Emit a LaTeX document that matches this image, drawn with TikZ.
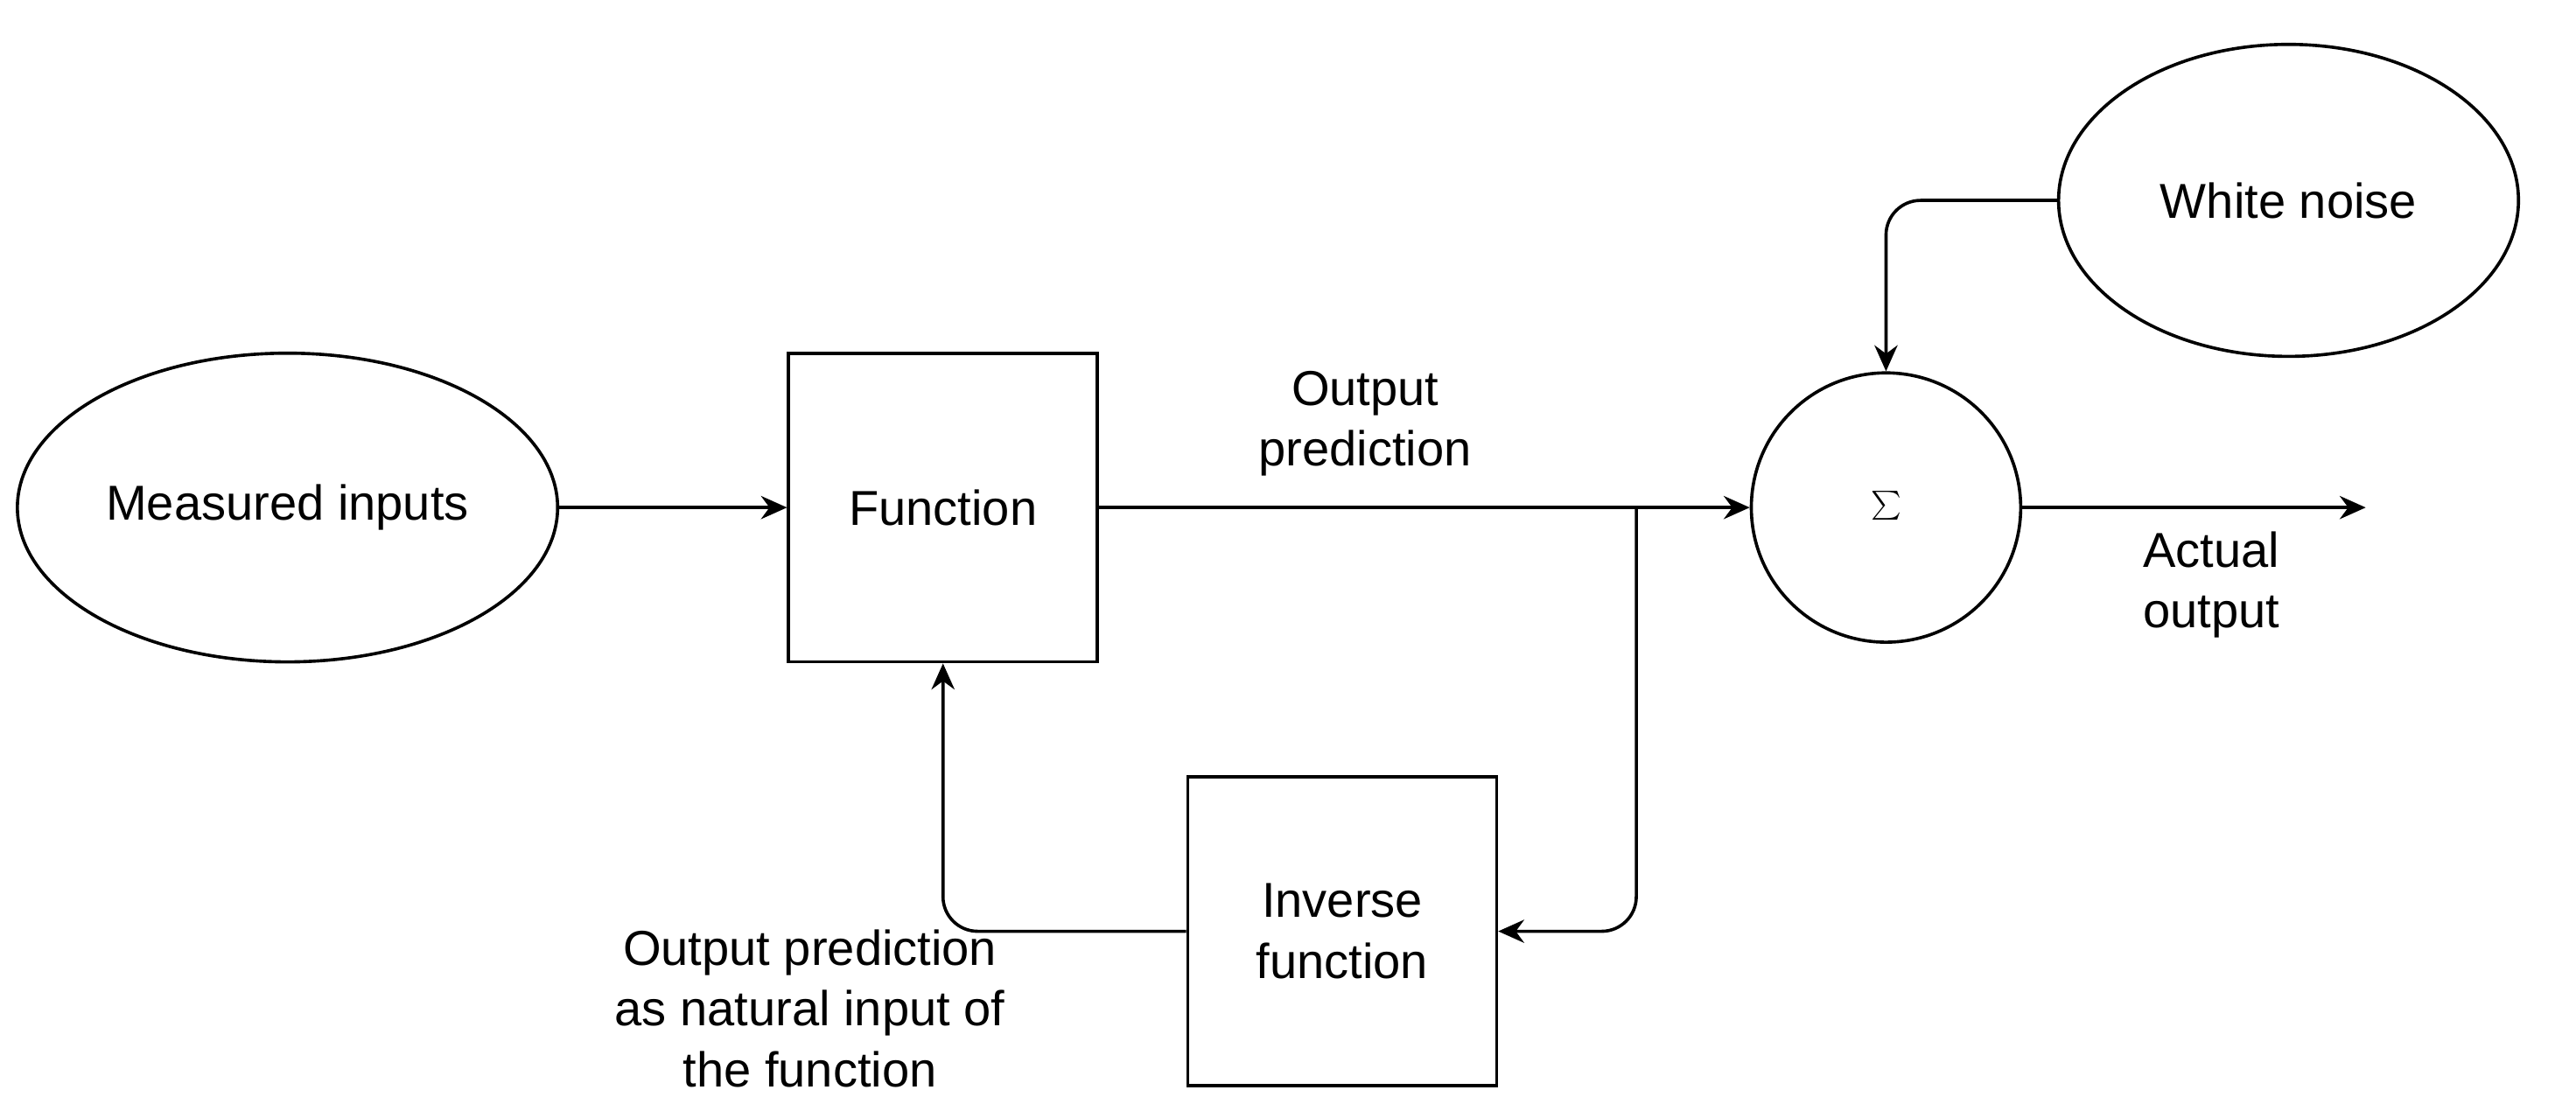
\documentclass[tikz,border=0pt]{standalone}
\usepackage{fontspec}
\setmainfont{Liberation Sans}
\usetikzlibrary{shapes.geometric,arrows.meta}

\begin{document}
\begin{tikzpicture}[x=0.02cm, y=-0.02cm, line width=1.1pt,
    font=\fontsize{17}{21}\selectfont,
    blob/.style={draw, ellipse, minimum width=5.6cm, minimum height=3.76cm},
    block/.style={draw, rectangle, minimum width=3.76cm, minimum height=3.76cm, align=center},
    arr/.style={-{Stealth[length=9pt,width=8pt]}, rounded corners=12pt}]
    \useasboundingbox (0,0) rectangle (1568,672);
    \node[blob] (inputs) at (175,309) {Measured inputs};
    \node[block] (func) at (574,309) {Function};
    \node[draw, circle, minimum size=3.28cm] (sum) at (1148,309) {\fontsize{48}{48}\selectfont$\sum$};
    \node[blob, minimum height=3.8cm] (noise) at (1393,122) {White noise};
    \node[block] (inv) at (817,567) {Inverse\\function};
    \coordinate (out) at (1440,309);
    \coordinate (split) at (996,309);
	\draw[arr] (inputs) -- (func);
	\draw[arr] (func) -- (sum);
	\draw[arr] (noise.west) -| (sum.north);
	\draw[arr] (sum) -- (out);
	\draw[arr] (split) |- (inv.east);
	\draw[arr] (inv.west) -| (func.south);
	\node[align=center] (lblpred) at (831,258) {Output\\prediction};
	\node[align=center] (lblout) at (1346,356) {Actual\\output};
	\node[align=center] (lblnat) at (493,614) {Output prediction\\as natural input of\\the function};
\end{tikzpicture}
\end{document}
